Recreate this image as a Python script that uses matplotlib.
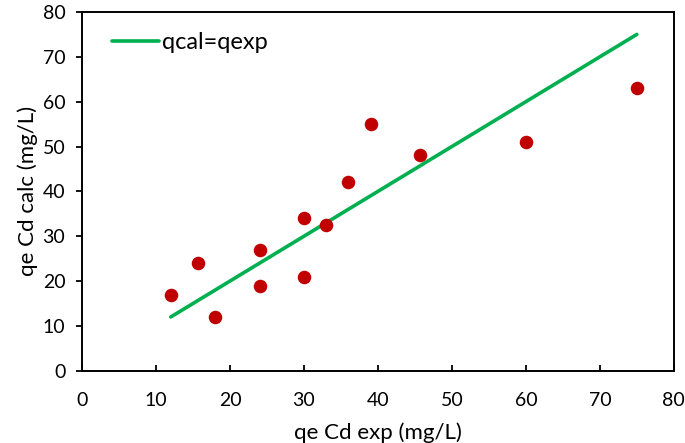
import matplotlib
matplotlib.use('Agg')
import matplotlib.pyplot as plt

plt.rcParams['font.family'] = ['Lato', 'DejaVu Sans']

# experimental vs calculated qe for Cd
qe_exp = [12, 15.7, 18, 24, 24, 30, 30, 33, 36, 39, 45.7, 60, 75]
qe_calc = [17, 24, 12, 27, 19, 34, 21, 32.6, 42, 55, 48, 51, 63]
line_x = [12, 75]
line_y = [12, 75]

fig = plt.figure(figsize=(6.85, 4.43), dpi=100)
ax = fig.add_axes([0.1197, 0.163, 0.864, 0.810])

ax.plot(line_x, line_y, color='#00B050', linewidth=2.6, label='qcal=qexp',
        solid_capstyle='round', zorder=2)
ax.scatter(qe_exp, qe_calc, s=95, color='#C00000', zorder=3, linewidths=0)

ax.set_xlim(0, 80)
ax.set_ylim(0, 80)
ax.set_xticks(range(0, 81, 10))
ax.set_yticks(range(0, 81, 10))
ax.tick_params(axis='x', direction='in', length=4, width=1.3, labelsize=14, pad=15.5)
ax.tick_params(axis='y', direction='out', length=4, width=1.3, labelsize=14, pad=8)
for s in ax.spines.values():
    s.set_linewidth(1.4)

ax.set_xlabel('qe Cd exp (mg/L)', fontsize=16, labelpad=9.5)
ax.set_ylabel('qe Cd calc (mg/L)', fontsize=16, labelpad=3.5)

leg = ax.legend(loc='upper left', frameon=False, fontsize=17, handlelength=2.0,
                handletextpad=0.15, borderaxespad=0.3, bbox_to_anchor=(0.022, 0.99))

fig.savefig('out.png', dpi=100)
